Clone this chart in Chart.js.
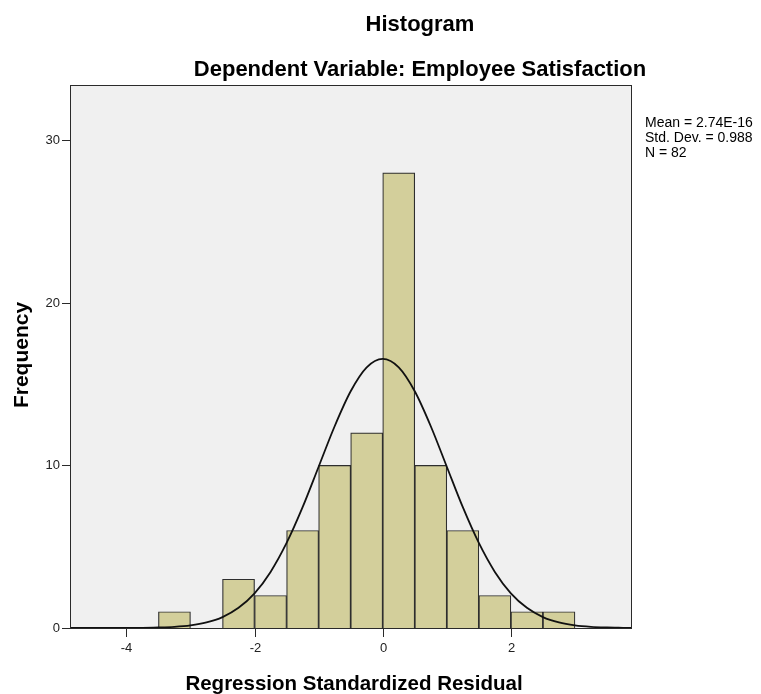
<!DOCTYPE html>
<html>
<head>
<meta charset="utf-8">
<script src="https://cdn.jsdelivr.net/npm/chart.js@4/dist/chart.umd.min.js"></script>
<style>
  html, body { margin: 0; padding: 0; background: #ffffff; }
  #wrap { width: 761px; height: 694px; }
</style>
</head>
<body>
<div id="wrap"><canvas id="histo" width="761" height="694"></canvas></div>
<script>
// bins of width 0.5, given by their centre
const binCenters = [-3.25, -2.75, -2.25, -1.75, -1.25, -0.75, -0.25, 0.25, 0.75, 1.25, 1.75, 2.25, 2.75];
const frequencies = [1, 0, 3, 2, 6, 10, 12, 28, 10, 6, 2, 1, 1];

// normal curve
const curveX = [-4.88, -4.5, -4.25, -4, -3.75, -3.5, -3.25, -3, -2.75, -2.5, -2.25, -2, -1.75, -1.5, -1.25, -1, -0.75, -0.5, -0.25, 0,
  0.25, 0.5, 0.75, 1, 1.25, 1.5, 1.75, 2, 2.25, 2.5, 2.75, 3, 3.25, 3.5, 3.75, 3.89];
const curveY = [0, 0, 0, 0.01, 0.01, 0.03, 0.07, 0.16, 0.34, 0.67, 1.24, 2.13, 3.45, 5.23, 7.43, 9.92, 12.41, 14.56, 16.03, 16.55,
  16.03, 14.56, 12.41, 9.92, 7.43, 5.23, 3.45, 2.13, 1.24, 0.67, 0.34, 0.16, 0.07, 0.03, 0.01, 0];

const xTicks = [-4, -2, 0, 2];
const yTicks = [0, 10, 20, 30];
const statLines = ['Mean = 2.74E-16', 'Std. Dev. = 0.988', 'N = 82'];

const FONT = '"Liberation Sans", Arial, sans-serif';

// fondo del área, bordes, ticks y textos
const decor = {
  id: 'decor',
  beforeDatasetsDraw(chart) {
    const { ctx, chartArea: a } = chart;
    ctx.save();
    ctx.fillStyle = '#f0f0f0';
    ctx.fillRect(a.left, a.top, a.right - a.left, a.bottom - a.top);
    ctx.restore();
  },
  afterDraw(chart) {
    const { ctx, chartArea: a, scales } = chart;
    ctx.save();
    ctx.strokeStyle = '#2a2a2a';
    ctx.lineWidth = 1;
    ctx.strokeRect(a.left + 0.5, a.top + 0.5, a.right - a.left - 1, a.bottom - a.top);

    ctx.fillStyle = '#222222';
    ctx.font = '13px ' + FONT;
    // y ticks
    ctx.textAlign = 'right';
    ctx.textBaseline = 'middle';
    yTicks.forEach(v => {
      const y = Math.round(scales.y.getPixelForValue(v)) + 0.5;
      ctx.beginPath();
      ctx.moveTo(a.left - 8, y);
      ctx.lineTo(a.left, y);
      ctx.stroke();
      ctx.fillText(String(v), a.left - 10, y);
    });
    // x ticks
    ctx.textAlign = 'center';
    ctx.textBaseline = 'top';
    xTicks.forEach(v => {
      const x = Math.round(scales.x.getPixelForValue(v)) + 0.5;
      ctx.beginPath();
      ctx.moveTo(x, a.bottom);
      ctx.lineTo(x, a.bottom + 9);
      ctx.stroke();
      ctx.fillText(String(v), x, a.bottom + 14);
    });

    // titles
    ctx.fillStyle = '#000000';
    ctx.textBaseline = 'alphabetic';
    ctx.font = 'bold 22px ' + FONT;
    ctx.fillText('Histogram', 420, 31);
    ctx.fillText('Dependent Variable: Employee Satisfaction', 420, 76);
    ctx.font = 'bold 20.5px ' + FONT;
    ctx.fillText('Regression Standardized Residual', 354, 690);
    ctx.save();
    ctx.translate(28, 355);
    ctx.rotate(-Math.PI / 2);
    ctx.font = 'bold 21px ' + FONT;
    ctx.fillText('Frequency', 0, 0);
    ctx.restore();

    // stats box text
    ctx.font = '14px ' + FONT;
    ctx.textAlign = 'left';
    statLines.forEach((t, i) => ctx.fillText(t, 645, 127 + i * 15));
    ctx.restore();
  }
};

new Chart(document.getElementById('histo'), {
  data: {
    datasets: [
      {
        type: 'line',
        data: curveX.map((x, i) => ({ x: x, y: curveY[i] })),
        borderColor: '#111111',
        borderWidth: 1.8,
        pointRadius: 0,
        cubicInterpolationMode: 'monotone',
        fill: false,
        order: 0
      },
      {
        type: 'bar',
        data: binCenters.map((x, i) => ({ x: x, y: frequencies[i] })),
        backgroundColor: '#d3cf9b',
        borderColor: '#2e2e2e',
        borderWidth: 1.2,
        barPercentage: 1,
        categoryPercentage: 1,
        order: 1
      }
    ]
  },
  options: {
    responsive: false,
    animation: false,
    layout: { padding: { left: 70, right: 129, top: 85, bottom: 66 } },
    scales: {
      x: { type: 'linear', min: -4.88, max: 3.89, offset: false, display: false },
      y: { type: 'linear', min: 0, max: 33.4, display: false }
    },
    plugins: {
      legend: { display: false },
      tooltip: { enabled: false }
    }
  },
  plugins: [decor]
});
</script>
</body>
</html>
